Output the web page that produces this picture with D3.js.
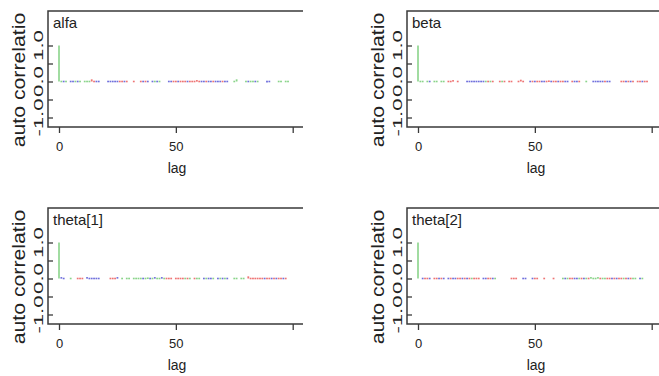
<!DOCTYPE html>
<html>
<head>
<meta charset="utf-8">
<script src="https://cdn.jsdelivr.net/npm/d3@7"></script>
<style>
  body { margin: 0; background: #fff; }
  text { font-family: "Liberation Sans", Arial, sans-serif; fill: #222; }
</style>
</head>
<body>
<div id="acf"></div>
<script>
// panel titles
const nodeNames = ['alfa', 'beta', 'theta[1]', 'theta[2]'];

// axis ticks
const lagTicks = [0, 50, 100];
const acfTicks = [-1, -0.5, 0, 0.5, 1];
const acfLabels = [-1, 0, 1];

// autocorrelation at lag 0 (all chains)
const lagZero = 1.0;

// visible chain colour per lag 1..98 (b = blue, r = red, g = green, . = nothing)
const alfaChain = ('gbg.bbgbg.' + 'gggrrbb...' + 'bbbbbrrbr.' + '.r..rbrb.b' + 'gbg...bbrr' +
    'brrrbrrrrr' + 'bbrbbrbbbr' + 'bb..gg...g' + 'bggbg...bb' + '...gg.gg').split('');
const betaChain = ('gg.gb.gg.g' + 'g.rrr.r...' + 'bbbbbbbbgr' + 'gr..rgr.rr' + '..rrr..brb' +
    'rrbbrrbrrb' + 'rrbb.rbbr.' + '.g..bbbbbr' + 'bb....rrbr' + 'br.rrbrr').split('');
const theta1Chain = ('bb..g..rrr' + '.bbbbbb...' + '.rrrb.g.gg' + '.ggggbggbg' + 'bggbgrrr.r' +
    'rrrgrg.rgg' + '.bgbbg.bgb' + 'gb..gg.gg.' + 'rrrrrrrbrr' + 'brbrrbr.').split('');
const theta2Chain = ('.brrb.rrbr' + 'b.brbbrrbr' + 'brgrrr.bbr' + 'rbg......r' + 'rr..bb..br' +
    'r..r...r..' + '.gbgrrbbgr' + 'bgrggggrgg' + 'rrbrbrrgrb' + 'rgg.bg..').split('');

// autocorrelation per lag 1..98, in hundredths
const alfaAcf = [2,2,2,0,2,2,2,2,2,0, 2,2,2,6,2,2,2,0,0,0, 2,2,2,2,2,2,2,2,2,0, 0,2,0,0,2,2,2,2,0,2,
    2,2,2,0,0,0,2,2,2,2, 2,2,2,2,2,2,2,2,4,2, 2,2,2,2,2,2,2,2,2,2, 2,2,0,0,2,6,0,0,0,2,
    2,2,2,2,2,0,0,0,-5,2, 0,0,0,2,2,0,2,2];
const betaAcf = [2,2,0,2,2,0,2,2,0,2, 2,0,2,2,4,0,2,0,0,0, 2,2,2,2,2,2,2,2,2,2, 2,2,0,0,2,2,2,0,2,2,
    0,0,2,5,2,0,0,2,2,2, 2,2,2,2,2,3,2,2,2,2, 2,2,2,2,0,2,2,2,2,0, 0,2,0,0,2,2,2,2,2,2,
    2,2,0,0,0,0,2,2,2,2, 2,2,0,2,2,2,2,2];
const theta1Acf = [4,2,0,0,2,0,0,2,2,2, 0,4,2,2,2,2,2,0,0,0, 0,2,2,2,4,0,2,0,2,2, 0,2,2,2,2,2,2,3,2,2,
    4,2,2,4,2,2,2,2,0,2, 2,2,2,2,2,2,0,2,2,2, 0,2,2,2,2,2,0,2,2,2, 2,2,0,0,2,2,0,2,2,0,
    6,2,2,2,2,2,2,2,2,2, 2,2,2,2,2,2,2,0];
const theta2Acf = [0,2,2,2,2,0,2,2,2,2, 2,0,2,2,2,2,2,2,2,2, 2,2,2,2,2,2,0,2,2,2, 2,2,2,0,0,0,0,0,0,2,
    2,2,0,0,2,2,0,0,2,2, 2,0,0,2,0,0,0,2,0,0, 0,2,2,2,2,2,2,2,2,2, 2,2,2,4,2,2,4,2,2,2,
    2,2,2,2,2,2,2,2,2,2, 2,2,2,0,2,2,0,0];

const chainColor = { b: '#7070dc', r: '#ee7474', g: '#8ad48a' };

// layout
const width = 659;
const height = 376;
const panelDx = 359;
const panelDy = 197;
const frame = { left: 48, top: 11, right: 303, bottom: 127 };

const panels = [
    { name: nodeNames[0], chain: alfaChain, acf: alfaAcf, col: 0, row: 0 },
    { name: nodeNames[1], chain: betaChain, acf: betaAcf, col: 1, row: 0 },
    { name: nodeNames[2], chain: theta1Chain, acf: theta1Acf, col: 0, row: 1 },
    { name: nodeNames[3], chain: theta2Chain, acf: theta2Acf, col: 1, row: 1 },
];

const svg = d3
    .select('#acf')
    .append('svg')
    .attr('width', width)
    .attr('height', height);

const x = d3.scaleLinear().domain([0, 100]).range([59, 292.7]);
const y = d3.scaleLinear().domain([-1, 1]).range([117.5, 45.5]);

panels.forEach((p) => {
    const g = svg
        .append('g')
        .attr('transform', `translate(${p.col * panelDx},${p.row * panelDy})`);

    // lag marks
    const bars = p.acf
        .map((v, i) => ({ lag: i + 1, value: v / 100, chain: p.chain[i] }))
        .filter((d) => d.value !== 0 && chainColor[d.chain]);

    g.selectAll('.lagBar')
        .data(bars)
        .enter()
        .append('rect')
        .attr('class', 'lagBar')
        .attr('x', (d) => x(d.lag) - 0.9)
        .attr('width', 1.8)
        .attr('y', (d) => Math.min(y(d.value), y(0) - 0.8))
        .attr('height', (d) => Math.max(Math.abs(y(d.value) - y(0)), 1.6))
        .attr('fill', (d) => chainColor[d.chain]);

    // lag 0 bar
    g.append('line')
        .attr('x1', x(0))
        .attr('x2', x(0))
        .attr('y1', y(lagZero))
        .attr('y2', y(0))
        .attr('stroke', chainColor.g)
        .attr('stroke-width', 1.6);

    // frame: left, top, bottom
    g.append('path')
        .attr('d', `M${frame.right},${frame.top}H${frame.left}V${frame.bottom}H${frame.right}`)
        .attr('fill', 'none')
        .attr('stroke', '#3a3a3a')
        .attr('stroke-width', 1.5);

    // y ticks point inwards
    const yAxis = g
        .append('g')
        .attr('transform', `translate(${frame.left},0)`)
        .call(d3.axisLeft(y).tickValues(acfTicks).tickSize(-5).tickFormat(''));
    yAxis.select('.domain').remove();
    yAxis.selectAll('line').attr('stroke', '#3a3a3a').attr('stroke-width', 1.3);

    // y tick labels, rotated and wide
    g.selectAll('.acfLabel')
        .data(acfLabels)
        .enter()
        .append('text')
        .attr('class', 'acfLabel')
        .attr('transform', (d) => `translate(43,${y(d)}) rotate(-90) scale(1.85,1)`)
        .style('text-anchor', 'middle')
        .style('font-size', '12px')
        .text((d) => d3.format('.1f')(d).replace('−', '-'));

    // x axis
    const xAxis = g
        .append('g')
        .attr('transform', `translate(0,${frame.bottom})`)
        .call(
            d3.axisBottom(x)
                .tickValues(lagTicks)
                .tickSize(6)
                .tickPadding(9)
                .tickFormat((d) => (d === 100 ? '' : d))
        );
    xAxis.select('.domain').remove();
    xAxis.selectAll('line').attr('stroke', '#3a3a3a').attr('stroke-width', 1.3);
    xAxis.selectAll('text')
        .style('font-size', '13px')
        .style('font-family', '"Liberation Sans", Arial, sans-serif')
        .attr('fill', '#222');

    // x label
    g.append('text')
        .attr('x', 177)
        .attr('y', 173)
        .style('text-anchor', 'middle')
        .style('font-size', '14px')
        .text('lag');

    // y label (cut off as in the original)
    g.append('text')
        .attr('transform', 'translate(25,80) rotate(-90) scale(1.18,1)')
        .style('text-anchor', 'middle')
        .style('font-size', '18px')
        .text('auto correlatio');

    // title
    g.append('text')
        .attr('x', 53)
        .attr('y', 28)
        .style('font-size', '15px')
        .text(p.name);
});
</script>
</body>
</html>
